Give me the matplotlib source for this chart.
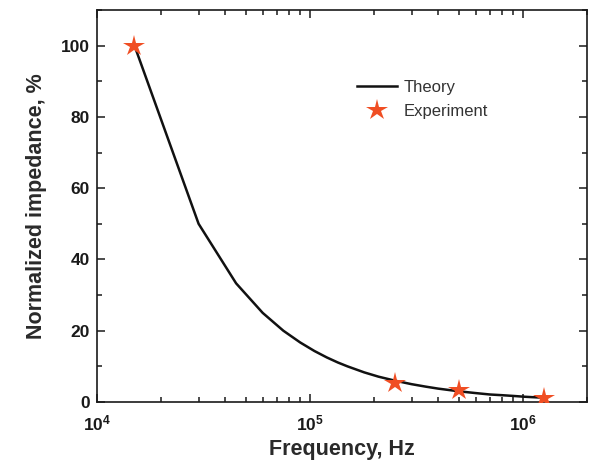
import matplotlib
matplotlib.use("Agg")
import matplotlib.pyplot as plt
from matplotlib.ticker import FixedLocator, LogLocator, MultipleLocator, NullFormatter

plt.rcParams['font.family'] = ['Liberation Sans', 'DejaVu Sans']
plt.rcParams['mathtext.fontset'] = 'custom'
plt.rcParams['mathtext.rm'] = 'Liberation Sans:bold'
plt.rcParams['mathtext.bf'] = 'Liberation Sans:bold'
plt.rcParams['mathtext.it'] = 'Liberation Sans:bold'

# Theory curve
theory_f = [1.5e4, 3.0e4, 4.5e4, 6.0e4, 7.5e4, 9.0e4, 1.05e5, 1.2e5, 1.35e5, 1.5e5,
            1.8e5, 2.1e5, 2.5e5, 3.0e5, 3.5e5, 4.0e5, 5.0e5, 6.0e5, 7.0e5, 8.0e5, 9.0e5,
            1.0e6, 1.1e6, 1.2e6]
theory_z = [100.0, 50.0, 33.3, 25.0, 20.0, 16.7, 14.3, 12.5, 11.1, 10.0,
            8.3, 7.1, 6.0, 5.0, 4.3, 3.75, 3.0, 2.5, 2.1, 1.9, 1.7,
            1.5, 1.36, 1.25]

# Experiment
exp_f = [1.5e4, 2.5e5, 5.0e5, 1.25e6]
exp_z = [100.0, 5.3, 3.3, 1.2]

xtick_vals = [1e4, 1e5, 1e6]
xtick_labels = [r'$\mathbf{10^{4}}$', r'$\mathbf{10^{5}}$', r'$\mathbf{10^{6}}$']
ytick_vals = [0, 20, 40, 60, 80, 100]

fig = plt.figure(figsize=(5.9, 4.69), dpi=100)
ax = fig.add_axes([0.1644, 0.1429, 0.9949 - 0.1644, 0.9787 - 0.1429])

ax.plot(theory_f, theory_z, color='#111111', lw=1.8, label='Theory', zorder=2)
ax.plot(exp_f, exp_z, linestyle='none', marker='*', color='#f04e23', markersize=16,
        markeredgewidth=0, label='Experiment', zorder=3)

ax.set_xscale('log')
ax.set_xlim(1e4, 2e6)
ax.set_ylim(0, 110)

ax.xaxis.set_major_locator(FixedLocator(xtick_vals))
ax.set_xticks(xtick_vals)
ax.set_xticklabels(xtick_labels)
ax.xaxis.set_minor_locator(LogLocator(base=10, subs=range(2, 10)))
ax.xaxis.set_minor_formatter(NullFormatter())

ax.set_yticks(ytick_vals)
ax.set_yticklabels([str(v) for v in ytick_vals])
ax.yaxis.set_minor_locator(MultipleLocator(10))

ax.tick_params(which='both', direction='in', top=True, right=True, width=1.1, colors='#1a1a1a')
ax.tick_params(which='major', length=6, labelsize=12.5, pad=5)
ax.tick_params(axis='x', which='major', pad=8)
ax.tick_params(which='minor', length=3.5)
for lbl in ax.get_yticklabels():
    lbl.set_fontweight('bold')
for s in ax.spines.values():
    s.set_linewidth(1.2)
    s.set_color('#1a1a1a')

ax.set_xlabel('Frequency, Hz', fontsize=15.5, fontweight='bold', labelpad=4, color='#2a2a2a')
ax.set_ylabel('Normalized impedance, %', fontsize=15.5, fontweight='bold', labelpad=10, color='#2a2a2a')

leg = ax.legend(loc='upper left', bbox_to_anchor=(0.5, 0.86), frameon=False, fontsize=12,
                handlelength=2.4, handletextpad=0.4, labelspacing=0.55)
for t in leg.get_texts():
    t.set_color('#333333')

fig.savefig('out.png', dpi=100)
